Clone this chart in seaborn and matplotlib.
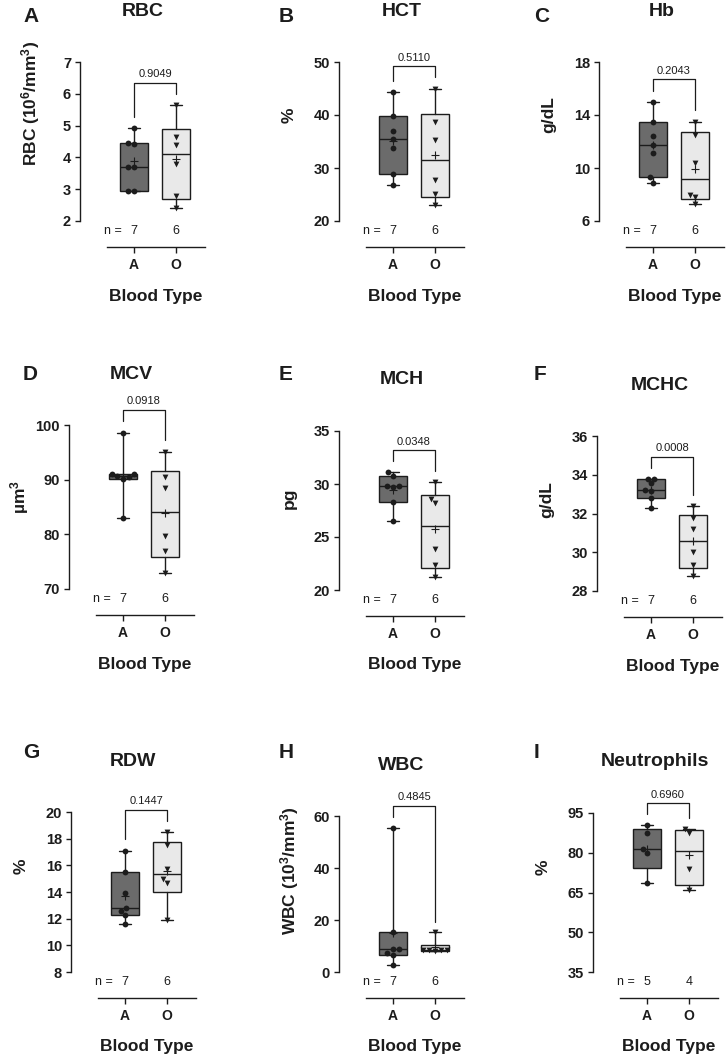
import numpy as np
import pandas as pd
import matplotlib
matplotlib.use("Agg")
import matplotlib.pyplot as plt
import seaborn as sns

# values (blood type A vs O)
groups = ["A", "O"]

rbc_a = [4.93, 4.43, 4.45, 3.70, 3.70, 2.95, 2.95]
rbc_o = [5.65, 4.65, 4.40, 3.80, 2.80, 2.42]
hct_a = [44.3, 39.8, 37.0, 35.4, 33.8, 28.8, 26.8]
hct_o = [45.0, 38.7, 35.2, 27.7, 25.1, 23.0]
hb_a = [15.0, 13.5, 12.4, 11.7, 11.1, 9.3, 8.9]
hb_o = [13.5, 12.5, 10.4, 8.0, 7.8, 7.3]
mcv_a = [98.6, 91.1, 91.0, 90.6, 90.4, 90.2, 83.0]
mcv_o = [95.1, 90.4, 88.4, 79.7, 76.9, 73.0]
mch_a = [31.1, 30.8, 29.8, 29.8, 29.7, 28.3, 26.5]
mch_o = [30.2, 28.6, 28.2, 23.9, 22.4, 21.2]
mchc_a = [33.8, 33.8, 33.55, 33.2, 33.15, 32.8, 32.3]
mchc_o = [32.4, 31.75, 31.2, 30.0, 29.35, 28.8]
rdw_a = [17.1, 15.5, 13.9, 12.8, 12.6, 12.3, 11.6]
rdw_o = [18.5, 17.5, 15.75, 15.0, 14.7, 11.9]
wbc_a = [55.5, 15.3, 8.9, 8.8, 7.3, 6.5, 2.8]
wbc_o = [15.2, 8.6, 8.5, 8.4, 8.3, 8.1]
neut_a = [90.3, 87.5, 81.5, 79.8, 68.5]
neut_o = [89.1, 87.5, 73.7, 66.1]

titles = ["RBC", "HCT", "Hb", "MCV", "MCH", "MCHC", "RDW", "WBC", "Neutrophils"]
letters = ["A", "B", "C", "D", "E", "F", "G", "H", "I"]
ylabels = ["RBC (10$^{6}$/mm$^{3}$)", "%", "g/dL", "µm$^{3}$", "pg", "g/dL", "%",
           "WBC (10$^{3}$/mm$^{3}$)", "%"]
yticks = [[2, 3, 4, 5, 6, 7], [20, 30, 40, 50], [6, 10, 14, 18], [70, 80, 90, 100],
          [20, 25, 30, 35], [28, 30, 32, 34, 36], [8, 10, 12, 14, 16, 18, 20],
          [0, 20, 40, 60], [35, 50, 65, 80, 95]]
p_values = ["0.9049", "0.5110", "0.2043", "0.0918", "0.0348", "0.0008", "0.1447",
            "0.4845", "0.6960"]
values = [(rbc_a, rbc_o), (hct_a, hct_o), (hb_a, hb_o), (mcv_a, mcv_o), (mch_a, mch_o),
          (mchc_a, mchc_o), (rdw_a, rdw_o), (wbc_a, wbc_o), (neut_a, neut_o)]

sns.set_style("ticks")
plt.rcParams["font.family"] = ["Liberation Sans", "DejaVu Sans"]
plt.rcParams["mathtext.fontset"] = "custom"
plt.rcParams["mathtext.rm"] = "Liberation Sans:bold"
plt.rcParams["mathtext.bf"] = "Liberation Sans:bold"
plt.rcParams["mathtext.default"] = "rm"

ink = "#1c1c1c"
box_colors = ["#6b6b6b", "#e9e9e9"]
markers = ["o", "v"]

W, H = 726, 1060
PX = 42.0          # pixels per category step
XL = (-1.28, 1.68)
PT = 0.72          # points per pixel at dpi 100

# panel placement in pixels: x of group A, axis top, axis bottom, ylabel centre (axes frac)
layout = [(134, 62, 221, 0.74), (393, 62, 221, 0.667), (653, 62, 221, 0.667),
          (123, 425, 589, 0.56), (393, 431, 590, 0.58), (651, 436, 591, 0.59),
          (125, 812, 972, 0.66), (393, 816, 972, 0.65), (647, 813, 972, 0.66)]
letter_x = [23, 279, 534]
letter_y = [17, 374, 753]

fig = plt.figure(figsize=(W / 100, H / 100), dpi=100)
axes = []


def box_stats(vals):
    v = np.asarray(vals, dtype=float)
    q1, med, q3 = np.percentile(v, [25, 50, 75], method="weibull")
    return dict(med=med, q1=q1, q3=q3, whislo=v.min(), whishi=v.max(),
                mean=v.mean(), fliers=[])


for i, (a_vals, o_vals) in enumerate(values):
    xa, ytop, ybot, ylab_y = layout[i]
    wpx = (XL[1] - XL[0]) * PX
    hpx = ybot - ytop
    left = xa + XL[0] * PX
    ax = fig.add_axes([left / W, 1 - ybot / H, wpx / W, hpx / H])
    axes.append(ax)

    df = pd.DataFrame({"group": ["A"] * len(a_vals) + ["O"] * len(o_vals),
                       "value": list(a_vals) + list(o_vals)})

    bp = ax.bxp([box_stats(a_vals), box_stats(o_vals)], positions=[0, 1], widths=0.65,
                capwidths=0.3, patch_artist=True, showmeans=True, showfliers=False,
                manage_ticks=False,
                boxprops=dict(edgecolor=ink, linewidth=1.0),
                medianprops=dict(color=ink, linewidth=1.0),
                whiskerprops=dict(color=ink, linewidth=1.0),
                capprops=dict(color=ink, linewidth=1.0),
                meanprops=dict(marker="+", markeredgecolor=ink, markersize=5.5,
                               markeredgewidth=0.8))
    for patch, c in zip(bp["boxes"], box_colors):
        patch.set_facecolor(c)

    for g, m in zip(groups, markers):
        sns.swarmplot(data=df[df["group"] == g], x="group", y="value", order=groups,
                      marker=m, color=ink, size=4.2, ax=ax, zorder=4, warn_thresh=1)

    ticks = yticks[i]
    ymin, ymax = ticks[0], ticks[-1]
    rng = ymax - ymin
    ax.set_ylim(ymin, ymax)
    ax.set_yticks(ticks)
    ax.set_yticklabels([str(t) for t in ticks], fontsize=10.5)
    ax.set_xlim(*XL)
    ax.set_xticks([0, 1])
    ax.set_xticklabels(groups, fontsize=10.5)

    sns.despine(ax=ax)
    ax.spines["left"].set_bounds(ymin, ymax)
    ax.spines["bottom"].set_bounds(-0.65, XL[1])
    ax.spines["bottom"].set_position(("outward", 26 * PT))
    for s in ["left", "bottom"]:
        ax.spines[s].set_linewidth(1.0)
        ax.spines[s].set_color(ink)
    ax.tick_params(axis="y", length=3.6, width=1.0, pad=3, colors=ink)
    ax.tick_params(axis="x", length=4.3, width=1.0, pad=3.5, colors=ink)

    ax.set_xlabel("Blood Type", fontsize=12.5, fontweight="bold", color=ink)
    ax.xaxis.set_label_coords((0.515 - XL[0]) / (XL[1] - XL[0]), -(26 + 49) / hpx)
    ax.xaxis.label.set_va("center")
    ax.set_ylabel(ylabels[i], fontsize=12.5, fontweight="bold", color=ink)
    ax.yaxis.set_label_coords(-50 / wpx, ylab_y)
    ax.yaxis.label.set_va("center")

    # significance bracket
    top = max(max(a_vals), max(o_vals)) + 0.14 * rng
    leg_a = max(a_vals) + 0.07 * rng
    leg_o = max(o_vals) + 0.07 * rng
    ax.plot([0, 0, 1, 1], [leg_a, top, top, leg_o], color=ink, lw=0.9, clip_on=False)
    ax.annotate(p_values[i], xy=(0.5, top), xytext=(0, 2.5), textcoords="offset points",
                ha="center", va="bottom", fontsize=8, color=ink, annotation_clip=False)

    # sample sizes
    ax.annotate("n =", xy=(0, ymin), xytext=(-8.5, -10 * PT), textcoords="offset points",
                ha="right", va="center", fontsize=9, color=ink, annotation_clip=False)
    for x, vals in zip([0, 1], [a_vals, o_vals]):
        ax.annotate(str(len(vals)), xy=(x, ymin), xytext=(0, -10 * PT),
                    textcoords="offset points", ha="center", va="center", fontsize=9,
                    color=ink, annotation_clip=False)

    ax.annotate(titles[i], xy=(0.5, 1), xycoords="axes fraction", xytext=(0, 51 * PT),
                textcoords="offset points", ha="center", va="center", fontsize=14,
                fontweight="bold", color=ink)

    fig.text(letter_x[i % 3] / W, 1 - letter_y[i // 3] / H, letters[i], ha="left",
             va="center", fontsize=15, fontweight="bold", color=ink)

# tick labels are bold in the original
fig.canvas.draw()
for ax in axes:
    for lab in ax.get_xticklabels() + ax.get_yticklabels():
        lab.set_fontweight("bold")

fig.savefig("out.png", dpi=100)
